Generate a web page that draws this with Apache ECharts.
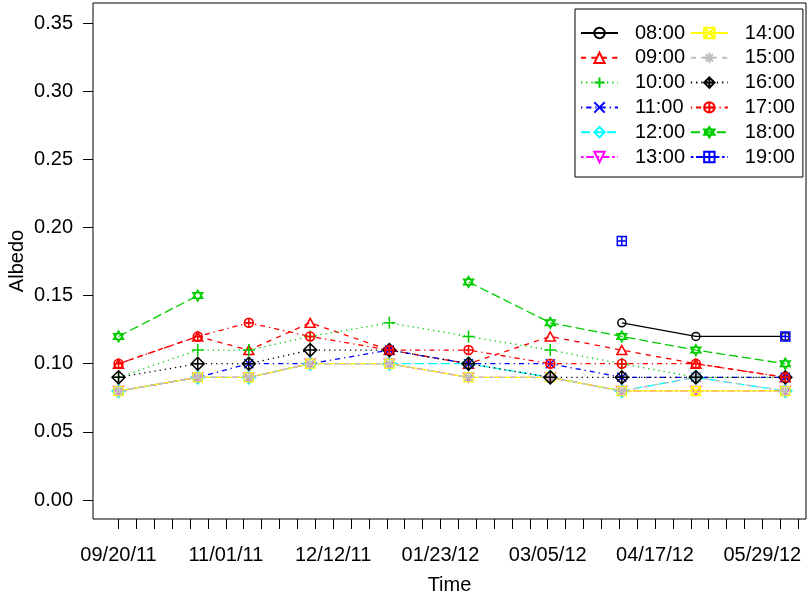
<!DOCTYPE html>
<html>
<head>
<meta charset="utf-8">
<script src="https://cdn.jsdelivr.net/npm/echarts@6/dist/echarts.min.js"></script>
<style>
  html, body { margin: 0; padding: 0; background: #fff; }
  #chart { width: 807px; height: 596px; }
</style>
</head>
<body>
<div id="chart"></div>
<script>
// Sampling dates (one observation per visit)
const dates = ["2011-09-20", "2011-10-21", "2011-11-10", "2011-12-04", "2012-01-04",
               "2012-02-04", "2012-03-07", "2012-04-04", "2012-05-03", "2012-06-07"];

// Albedo by hour of day (null = no observation)
const hours = ["08:00", "09:00", "10:00", "11:00", "12:00", "13:00",
               "14:00", "15:00", "16:00", "17:00", "18:00", "19:00"];
const a08 = [null, null, null, null, null, null, null, 0.13, 0.12, 0.12];
const a09 = [0.10, 0.12, 0.11, 0.13, 0.11, 0.10, 0.12, 0.11, 0.10, 0.09];
const a10 = [0.09, 0.11, 0.11, 0.12, 0.13, 0.12, 0.11, 0.10, 0.09, 0.09];
const a11 = [0.08, 0.09, 0.10, 0.10, 0.11, 0.10, 0.10, 0.09, 0.09, 0.09];
const a12 = [0.08, 0.09, 0.09, 0.10, 0.10, 0.10, 0.09, 0.08, 0.09, 0.08];
const a13 = [0.08, 0.09, 0.09, 0.10, 0.10, 0.09, 0.09, 0.08, 0.08, 0.08];
const a14 = [0.08, 0.09, 0.09, 0.10, 0.10, 0.09, 0.09, 0.08, 0.08, 0.08];
const a15 = [0.08, 0.09, 0.09, 0.10, 0.10, 0.09, 0.09, 0.08, 0.09, 0.08];
const a16 = [0.09, 0.10, 0.10, 0.11, 0.11, 0.10, 0.09, 0.09, 0.09, 0.09];
const a17 = [0.10, 0.12, 0.13, 0.12, 0.11, 0.11, 0.10, 0.10, 0.10, 0.09];
const a18 = [0.12, 0.15, null, null, null, 0.16, 0.13, 0.12, 0.11, 0.10];
const a19 = [null, null, null, null, null, null, null, 0.19, null, 0.12];
const values = [a08, a09, a10, a11, a12, a13, a14, a15, a16, a17, a18, a19];

// Axis labels
const timeLabels = ["09/20/11", "11/01/11", "12/12/11", "01/23/12", "03/05/12", "04/17/12", "05/29/12"];
const albedoTicks = [0, 0.05, 0.10, 0.15, 0.20, 0.25, 0.30, 0.35];

// x is measured in days from the first label date
const origin = Date.UTC(2011, 8, 20);
function dayOf(s) {
  const p = s.split("-").map(Number);
  return Math.round((Date.UTC(p[0], p[1] - 1, p[2]) - origin) / 86400000);
}
const days = dates.map(dayOf);
const weekTicks = [];
for (let d = 0; d <= 266; d += 7) weekTicks.push(d);
const labelDays = timeLabels.map((_, i) => i * 42);

// Styling: classic plot palette, line types and point characters
const colors = ["#000000", "#FF0000", "#00CD00", "#0000FF", "#00FFFF", "#FF00FF",
                "#FFFF00", "#BEBEBE", "#000000", "#FF0000", "#00CD00", "#0000FF"];
const u = 1.3;
const dashes = {
  solid: "solid",
  dashed: [4 * u, 4 * u],
  dotted: [1 * u, 3 * u],
  dotdash: [1 * u, 3 * u, 4 * u, 3 * u],
  longdash: [7 * u, 3 * u],
  twodash: [2 * u, 2 * u, 6 * u, 2 * u]
};
const lineTypes = ["solid", "dashed", "dotted", "dotdash", "longdash", "twodash",
                   "solid", "dashed", "dotted", "dotdash", "longdash", "twodash"];
const P = {
  circle: "path://M0 5A5 5 0 1 0 10 5A5 5 0 1 0 0 5Z",
  triUp: "path://M5 0L10 8.66L0 8.66Z",
  plus: "path://M5 0L5 10M0 5L10 5",
  cross: "path://M0 0L10 10M0 10L10 0",
  diamond: "path://M5 0L10 5L5 10L0 5Z",
  triDown: "path://M0 0L10 0L5 8.66Z",
  boxCross: "path://M0 0L10 0L10 10L0 10ZM0 0L10 10M0 10L10 0",
  asterisk: "path://M5 0L5 10M0 5L10 5M1.5 1.5L8.5 8.5M1.5 8.5L8.5 1.5",
  diamondPlus: "path://M5 0L10 5L5 10L0 5ZM5 0L5 10M0 5L10 5",
  circlePlus: "path://M0 5A5 5 0 1 0 10 5A5 5 0 1 0 0 5ZM5 0L5 10M0 5L10 5",
  star: "path://M5 0L9.33 7.5L0.67 7.5ZM0.67 2.5L9.33 2.5L5 10Z",
  boxPlus: "path://M0 0L10 0L10 10L0 10ZM5 0L5 10M0 5L10 5"
};
const symbols = [P.circle, P.triUp, P.plus, P.cross, P.diamond, P.triDown,
                 P.boxCross, P.asterisk, P.diamondPlus, P.circlePlus, P.star, P.boxPlus];
const sizes = [[8, 8], [10, 9], [12, 12], [9, 9], [13, 13], [10, 9],
               [9, 9], [12, 12], [13, 13], [9, 9], [10, 11], [9, 9]];

const font = "'Liberation Sans', Arial, Helvetica, sans-serif";
const fs = 20;

const series = hours.map((h, i) => ({
  name: h,
  type: "line",
  data: days.map((d, j) => [d, values[i][j]]),
  connectNulls: false,
  showSymbol: true,
  showAllSymbol: true,
  symbol: symbols[i],
  symbolSize: sizes[i],
  symbolKeepAspect: false,
  lineStyle: { color: colors[i], width: 1.3, type: dashes[lineTypes[i]] },
  itemStyle: { color: "rgba(0,0,0,0)", borderColor: colors[i], borderWidth: 1.5 },
  emphasis: { disabled: true },
  z: 2 + i
}));

const chart = echarts.init(document.getElementById("chart"), null, { renderer: "canvas" });
chart.setOption({
  animation: false,
  backgroundColor: "#ffffff",
  textStyle: { fontFamily: font },
  grid: {
    left: 93, right: 1, top: 3, bottom: 77,
    outerBoundsMode: "none",
    containLabel: false,
    show: true, borderColor: "#000", borderWidth: 1, backgroundColor: "transparent"
  },
  legend: {
    orient: "vertical",
    left: 575, top: 9,
    height: 146,
    padding: [14, 8, 10, 5],
    itemGap: 4.8,
    itemWidth: 37,
    itemHeight: 13,
    borderColor: "#000",
    borderWidth: 1,
    backgroundColor: "#fff",
    textStyle: {
      fontFamily: font, fontSize: fs, color: "#000",
      lineHeight: 18.4, padding: [0, 0, 0, 12], width: 50
    },
    data: hours
  },
  xAxis: {
    type: "value",
    min: -10, max: 269.1,
    name: "Time",
    nameLocation: "middle",
    nameGap: 56,
    nameMoveOverlap: false,
    nameTextStyle: { fontFamily: font, fontSize: fs, color: "#000" },
    axisLine: { show: false, onZero: false },
    splitLine: { show: false },
    axisTick: { show: true, inside: false, length: 10, lineStyle: { color: "#000", width: 1 }, customValues: weekTicks },
    axisLabel: {
      customValues: labelDays,
      margin: 26,
      fontFamily: font, fontSize: fs, color: "#000",
      formatter: v => timeLabels[Math.round(v / 42)]
    }
  },
  yAxis: {
    type: "value",
    min: -0.01394, max: 0.36467,
    name: "Albedo",
    nameLocation: "middle",
    nameGap: 66,
    nameMoveOverlap: false,
    nameRotate: 90,
    nameTextStyle: { fontFamily: font, fontSize: fs, color: "#000" },
    axisLine: { show: false, onZero: false },
    splitLine: { show: false },
    axisTick: { show: true, length: 10, lineStyle: { color: "#000", width: 1 }, customValues: albedoTicks },
    axisLabel: {
      customValues: albedoTicks,
      margin: 20,
      fontFamily: font, fontSize: fs, color: "#000",
      formatter: v => v.toFixed(2)
    }
  },
  series: series
});
</script>
</body>
</html>
